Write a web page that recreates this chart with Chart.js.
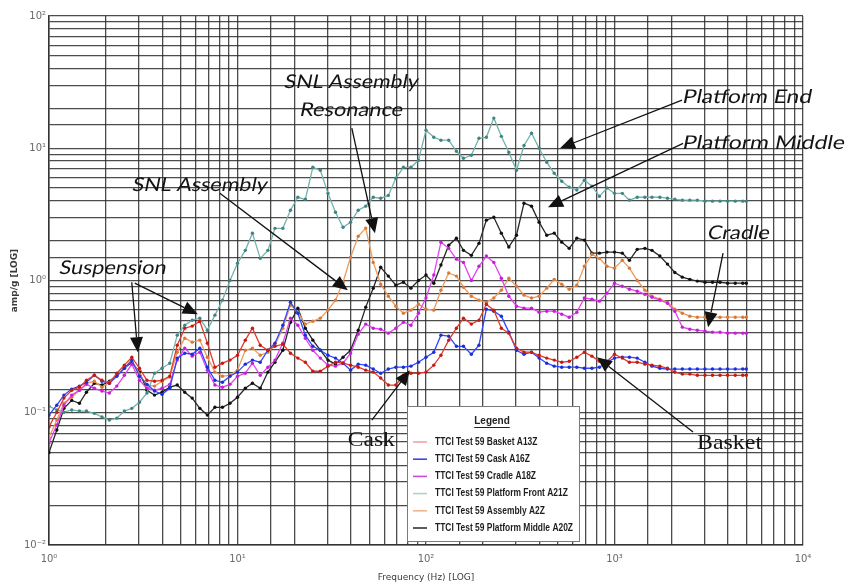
<!DOCTYPE html>
<html>
<head>
<meta charset="utf-8">
<script src="https://cdn.jsdelivr.net/npm/chart.js@4.4.1/dist/chart.umd.min.js"></script>
<style>
  html, body { margin: 0; padding: 0; background: #ffffff; }
  canvas { display: block; }
</style>
</head>
<body>
<canvas id="chart" width="849" height="586"></canvas>
<script>
// Frequency points (Hz) shared by every channel
const frequencies = [
  1, 1.1, 1.2, 1.32, 1.45, 1.58, 1.74, 1.91, 2.09, 2.29, 2.51, 2.75, 3.02, 3.31, 3.63, 3.98, 4.37, 4.79, 5.25, 5.75, 6.31, 6.92, 7.59, 8.32, 9.12,
  10, 11, 12, 13.2, 14.5, 15.8, 17.4, 19.1, 20.9, 22.9, 25.1, 27.5, 30.2, 33.1, 36.3, 39.8, 43.7, 47.9, 52.5, 57.5, 63.1, 69.2, 75.9, 83.2, 91.2,
  100, 110, 120, 132, 145, 158, 174, 191, 209, 229, 251, 275, 302, 331, 363, 398, 437, 479, 525, 575, 631, 692, 759, 832, 912,
  1000, 1100, 1200, 1320, 1450, 1580, 1740, 1910, 2090, 2290, 2510, 2750, 3020, 3310, 3630, 3980, 4370, 4790, 5000
];

// Response amplitude (g) per channel
const basketA13Z = [
  0.078, 0.101, 0.129, 0.148, 0.156, 0.176, 0.192, 0.176, 0.167, 0.199,
  0.229, 0.263, 0.217, 0.176, 0.173, 0.176, 0.189, 0.324, 0.436, 0.452,
  0.492, 0.336, 0.221, 0.237, 0.250, 0.272, 0.354, 0.436, 0.324, 0.297,
  0.318, 0.330, 0.282, 0.259, 0.241, 0.206, 0.206, 0.225, 0.241, 0.237,
  0.229, 0.221, 0.210, 0.203, 0.183, 0.162, 0.162, 0.192, 0.199, 0.199,
  0.203, 0.229, 0.272, 0.354, 0.436, 0.519, 0.468, 0.501, 0.662, 0.597,
  0.436, 0.400, 0.308, 0.287, 0.287, 0.272, 0.259, 0.250, 0.241, 0.245,
  0.263, 0.287, 0.268, 0.245, 0.245, 0.277, 0.259, 0.241, 0.241, 0.233,
  0.229, 0.225, 0.217, 0.203, 0.196, 0.196, 0.192, 0.192, 0.192, 0.192,
  0.192, 0.192, 0.192, 0.192
];
const caskA16Z = [
  0.096, 0.114, 0.136, 0.151, 0.159, 0.170, 0.192, 0.173, 0.167, 0.189,
  0.217, 0.250, 0.189, 0.164, 0.146, 0.138, 0.153, 0.259, 0.282, 0.277,
  0.308, 0.221, 0.176, 0.170, 0.189, 0.203, 0.233, 0.250, 0.241, 0.297,
  0.336, 0.459, 0.686, 0.566, 0.386, 0.318, 0.297, 0.272, 0.259, 0.237,
  0.210, 0.233, 0.229, 0.214, 0.199, 0.214, 0.221, 0.221, 0.225, 0.241,
  0.263, 0.287, 0.386, 0.379, 0.318, 0.318, 0.277, 0.324, 0.607, 0.586,
  0.537, 0.407, 0.297, 0.277, 0.287, 0.259, 0.237, 0.225, 0.221, 0.221,
  0.221, 0.217, 0.217, 0.221, 0.241, 0.259, 0.263, 0.263, 0.259, 0.241,
  0.225, 0.217, 0.214, 0.214, 0.214, 0.214, 0.214, 0.214, 0.214, 0.214,
  0.214, 0.214, 0.214, 0.214
];
const cradleA18Z = [
  0.059, 0.081, 0.114, 0.136, 0.148, 0.164, 0.153, 0.146, 0.141, 0.159,
  0.192, 0.233, 0.176, 0.153, 0.148, 0.153, 0.164, 0.250, 0.308, 0.268,
  0.287, 0.210, 0.162, 0.156, 0.164, 0.189, 0.199, 0.237, 0.192, 0.221,
  0.250, 0.336, 0.519, 0.459, 0.366, 0.297, 0.259, 0.229, 0.225, 0.237,
  0.282, 0.393, 0.468, 0.436, 0.428, 0.400, 0.436, 0.484, 0.459, 0.566,
  0.737, 1.10, 1.95, 1.75, 1.45, 1.37, 1.00, 1.28, 1.53, 1.37,
  1.04, 0.761, 0.639, 0.618, 0.618, 0.576, 0.586, 0.586, 0.556, 0.528,
  0.576, 0.737, 0.722, 0.698, 0.802, 0.954, 0.905, 0.859, 0.830, 0.788,
  0.748, 0.710, 0.673, 0.586, 0.444, 0.428, 0.421, 0.414, 0.407, 0.407,
  0.400, 0.400, 0.400, 0.400
];
const platformFrontA21Z = [
  0.112, 0.105, 0.101, 0.105, 0.103, 0.103, 0.099, 0.093, 0.088, 0.091,
  0.103, 0.108, 0.120, 0.141, 0.199, 0.217, 0.237, 0.386, 0.459, 0.501,
  0.519, 0.421, 0.547, 0.710, 1.00, 1.35, 1.69, 2.28, 1.47, 1.69,
  2.48, 2.48, 3.40, 4.26, 4.11, 7.18, 6.82, 4.56, 3.28, 2.53,
  2.76, 3.40, 3.65, 4.26, 4.19, 4.40, 5.93, 7.18, 7.18, 8.11,
  13.7, 12.1, 11.5, 11.5, 9.49, 8.40, 8.85, 11.9, 12.1, 16.9,
  12.3, 9.33, 6.82, 10.5, 13.0, 10.0, 7.84, 6.47, 5.63, 5.08,
  4.83, 5.73, 5.17, 4.33, 5.00, 4.56, 4.56, 4.05, 4.26, 4.26,
  4.26, 4.26, 4.19, 4.11, 4.05, 4.05, 4.05, 3.98, 3.98, 3.98,
  3.98, 3.98, 3.98, 3.98
];
const assemblyA2Z = [
  0.065, 0.088, 0.118, 0.131, 0.148, 0.167, 0.173, 0.156, 0.170, 0.192,
  0.217, 0.250, 0.196, 0.162, 0.159, 0.173, 0.186, 0.287, 0.366, 0.342,
  0.354, 0.263, 0.203, 0.189, 0.192, 0.210, 0.297, 0.308, 0.272, 0.287,
  0.324, 0.436, 0.651, 0.576, 0.468, 0.492, 0.519, 0.597, 0.710, 0.970,
  1.50, 2.16, 2.49, 1.37, 0.938, 0.761, 0.639, 0.566, 0.597, 0.662,
  0.607, 0.597, 0.845, 1.14, 1.08, 0.890, 0.761, 0.710, 0.686, 0.737,
  0.845, 1.04, 0.905, 0.775, 0.737, 0.761, 0.875, 1.02, 0.938, 0.859,
  0.921, 1.28, 1.58, 1.47, 1.28, 1.24, 1.42, 1.24, 1.00, 0.845,
  0.761, 0.722, 0.686, 0.607, 0.566, 0.537, 0.528, 0.528, 0.528, 0.528,
  0.528, 0.528, 0.528, 0.528
];
const platformMiddleA20Z = [
  0.050, 0.074, 0.108, 0.124, 0.118, 0.143, 0.167, 0.162, 0.173, 0.192,
  0.217, 0.241, 0.203, 0.148, 0.136, 0.143, 0.156, 0.162, 0.143, 0.129,
  0.108, 0.096, 0.110, 0.110, 0.118, 0.131, 0.153, 0.167, 0.153, 0.203,
  0.241, 0.297, 0.484, 0.618, 0.436, 0.354, 0.297, 0.250, 0.233, 0.263,
  0.297, 0.421, 0.629, 0.875, 1.26, 1.08, 0.921, 0.970, 0.875, 1.00,
  1.10, 0.954, 1.31, 1.85, 2.09, 1.69, 1.55, 1.91, 2.86, 3.01,
  2.28, 1.79, 2.20, 3.84, 3.65, 2.76, 2.20, 2.28, 1.95, 1.75,
  2.09, 2.02, 1.61, 1.61, 1.64, 1.64, 1.61, 1.42, 1.72, 1.75,
  1.69, 1.53, 1.33, 1.15, 1.06, 1.02, 0.990, 0.970, 0.970, 0.970,
  0.954, 0.954, 0.954, 0.954
];

const seriesNames = [
  'TTCI Test 59 Basket A13Z',
  'TTCI Test 59 Cask A16Z',
  'TTCI Test 59 Cradle A18Z',
  'TTCI Test 59 Platform Front A21Z',
  'TTCI Test 59 Assembly A2Z',
  'TTCI Test 59 Platform Middle A20Z'
];
const seriesValues = [basketA13Z, caskA16Z, cradleA18Z, platformFrontA21Z, assemblyA2Z, platformMiddleA20Z];

// Decade tick labels
const xTickLabels = ['10\u2070', '10\u00b9', '10\u00b2', '10\u00b3', '10\u2074'];
const yTickLabels = ['10\u207b\u00b2', '10\u207b\u00b9', '10\u2070', '10\u00b9', '10\u00b2'];

// Line / marker / legend swatch colours for each channel
const seriesStyles = [
  { line: '#e5392f', dot: '#c41a14', swatch: '#f2a3a3' },
  { line: '#3046ff', dot: '#1c2ed6', swatch: '#3a46e8' },
  { line: '#e444f2', dot: '#c61fd6', swatch: '#cf48e4' },
  { line: '#74b2ae', dot: '#3f8683', swatch: '#a9d4d0' },
  { line: '#ec9a5c', dot: '#d97a38', swatch: '#f0b48c' },
  { line: '#262626', dot: '#111111', swatch: '#333333' }
];

// Call-out labels, anchored in data units (Hz, g)
const SANS_CALLOUT = '19px Lato, "Open Sans", sans-serif';
const SERIF_CALLOUT = '21px "Liberation Serif", serif';
const calloutLabels = [
  { text: 'Platform End',    at: [2311, 24.3],   align: 'left',   font: SANS_CALLOUT, slant: true,  width: 129 },
  { text: 'Platform Middle', at: [2311, 10.9],   align: 'left',   font: SANS_CALLOUT, slant: true,  width: 162 },
  { text: 'Cradle',          at: [3136, 2.28],   align: 'left',   font: SANS_CALLOUT, slant: true,  width: 62 },
  { text: 'SNL Assembly',    at: [40.4, 31.5],   align: 'center', font: SANS_CALLOUT, slant: true,  width: 134 },
  { text: 'Resonance',       at: [40.4, 19.4],   align: 'center', font: SANS_CALLOUT, slant: true,  width: 103 },
  { text: 'SNL Assembly',    at: [2.782, 5.25],  align: 'left',   font: SANS_CALLOUT, slant: true,  width: 135 },
  { text: 'Suspension',      at: [1.14, 1.24],   align: 'left',   font: SANS_CALLOUT, slant: true,  width: 107 },
  { text: 'Cask',            at: [38.5, 0.0621], align: 'left',   font: SERIF_CALLOUT, slant: false, width: 47 },
  { text: 'Basket',          at: [2741, 0.0589], align: 'left',   font: SERIF_CALLOUT, slant: false, width: 65 }
];
// Pointer arrows: tail -> head, in data units
const calloutArrows = [
  { from: [2282, 23.1], to: [514, 10.0] },
  { from: [2311, 10.9], to: [444, 3.58] },
  { from: [3766, 1.61], to: [3136, 0.444] },
  { from: [40.4, 14.2], to: [53.6, 2.28] },
  { from: [8.06, 4.57], to: [38.5, 0.845] },
  { from: [2.748, 0.971], to: [2.957, 0.287] },
  { from: [2.85, 0.954], to: [6.156, 0.556] },
  { from: [51.6, 0.0879], to: [82.1, 0.210] },
  { from: [2610, 0.0714], to: [807, 0.263] }
];

const datasets = seriesNames.map((name, k) => ({
  label: name,
  data: frequencies.map((f, i) => ({ x: f, y: seriesValues[k][i] })),
  borderColor: seriesStyles[k].line,
  backgroundColor: seriesStyles[k].dot,
  pointBackgroundColor: seriesStyles[k].dot,
  pointBorderWidth: 0,
  pointRadius: 1.7,
  pointHoverRadius: 1.7,
  borderWidth: 1.3,
  tension: 0,
  fill: false
}));

function decadeLabel(value, labels, minExp) {
  const p = Math.round(Math.log10(value));
  if (Math.abs(value - Math.pow(10, p)) > 1e-9 * value) return '';
  return labels[p - minExp] || '';
}

const GRID = 'rgba(45,45,45,0.85)';

const calloutPlugin = {
  id: 'callouts',
  afterDatasetsDraw(chart) {
    const ctx = chart.ctx;
    const xs = chart.scales.x, ys = chart.scales.y;
    const px = (p) => [xs.getPixelForValue(p[0]), ys.getPixelForValue(p[1])];
    ctx.save();
    // arrows
    ctx.strokeStyle = '#111';
    ctx.fillStyle = '#111';
    ctx.lineWidth = 1.3;
    calloutArrows.forEach(a => {
      const [x0, y0] = px(a.from);
      const [x1, y1] = px(a.to);
      const ang = Math.atan2(y1 - y0, x1 - x0);
      const head = 15, half = 6.5;
      const bx = x1 - head * Math.cos(ang), by = y1 - head * Math.sin(ang);
      ctx.beginPath();
      ctx.moveTo(x0, y0);
      ctx.lineTo(bx, by);
      ctx.stroke();
      ctx.beginPath();
      ctx.moveTo(x1, y1);
      ctx.lineTo(bx + half * Math.sin(ang), by - half * Math.cos(ang));
      ctx.lineTo(bx - half * Math.sin(ang), by + half * Math.cos(ang));
      ctx.closePath();
      ctx.fill();
    });
    // labels (sans call-outs are slanted like an italic face)
    ctx.textBaseline = 'middle';
    ctx.fillStyle = '#141414';
    calloutLabels.forEach(l => {
      const [x, y] = px(l.at);
      ctx.font = l.font;
      const w = ctx.measureText(l.text).width;
      const s = l.width / w;
      ctx.save();
      ctx.translate(l.align === 'center' ? x - l.width / 2 : x, y);
      if (l.slant) ctx.transform(1, 0, -0.2, 1, 0, 0);
      ctx.scale(s, 1);
      ctx.textAlign = 'left';
      ctx.fillText(l.text, 0, 0);
      ctx.restore();
    });
    ctx.restore();
  },
  afterDraw(chart) {
    // legend panel
    const ctx = chart.ctx;
    const box = { x: 407, y: 406, w: 172, h: 135 };
    ctx.save();
    ctx.fillStyle = '#ffffff';
    ctx.fillRect(box.x, box.y, box.w, box.h);
    ctx.strokeStyle = '#7a7a7a';
    ctx.lineWidth = 1;
    ctx.strokeRect(box.x + 0.5, box.y + 0.5, box.w, box.h);

    ctx.fillStyle = '#222';
    ctx.font = 'bold 10px "Liberation Sans", Arial, sans-serif';
    ctx.textAlign = 'center';
    ctx.textBaseline = 'middle';
    const tx = box.x + box.w / 2 - 1, ty = box.y + 15;
    ctx.fillText('Legend', tx, ty);
    const tw = ctx.measureText('Legend').width;
    ctx.fillRect(tx - tw / 2, ty + 6, tw, 1);

    ctx.font = 'bold 10px "Liberation Sans Narrow", "Liberation Sans", Arial, sans-serif';
    ctx.textAlign = 'left';
    const longest = Math.max(...chart.data.datasets.map(d => ctx.measureText(d.label).width));
    const sx = 138 / longest;
    chart.data.datasets.forEach((d, i) => {
      const y = box.y + 36 + i * 17.2;
      ctx.strokeStyle = seriesStyles[i].swatch;
      ctx.lineWidth = 1.6;
      ctx.beginPath();
      ctx.moveTo(box.x + 6, y);
      ctx.lineTo(box.x + 20, y);
      ctx.stroke();
      ctx.save();
      ctx.translate(box.x + 28, y);
      ctx.scale(sx, 1);
      ctx.fillStyle = '#1e1e1e';
      ctx.fillText(d.label, 0, 0);
      ctx.restore();
    });
    ctx.restore();
  }
};

new Chart(document.getElementById('chart'), {
  type: 'line',
  data: { datasets },
  plugins: [calloutPlugin],
  options: {
    responsive: false,
    animation: false,
    devicePixelRatio: 1,
    layout: { padding: { left: 0, right: 46, top: 16, bottom: 0 } },
    plugins: { legend: { display: false }, tooltip: { enabled: false } },
    scales: {
      x: {
        type: 'logarithmic',
        position: 'bottom',
        min: 1,
        max: 10000,
        grid: { color: GRID, lineWidth: 1.3, drawTicks: false },
        border: { color: '#333', width: 1.5 },
        ticks: {
          autoSkip: false,
          maxRotation: 0,
          padding: 8,
          color: '#6a6a6a',
          font: { size: 10, family: '"DejaVu Sans", sans-serif' },
          callback: (v) => decadeLabel(v, xTickLabels, 0)
        },
        title: {
          display: true,
          text: 'Frequency (Hz) [LOG]',
          color: '#3a3a3a',
          font: { size: 9, family: '"DejaVu Sans", sans-serif' },
          padding: { top: 0, bottom: 3 }
        },
        afterFit(scale) { scale.height = 41; }
      },
      y: {
        type: 'logarithmic',
        position: 'left',
        min: 0.01,
        max: 100,
        grid: { color: GRID, lineWidth: 1.3, drawTicks: false },
        border: { color: '#333', width: 1.5 },
        ticks: {
          autoSkip: false,
          padding: 3,
          color: '#6a6a6a',
          font: { size: 10, family: '"DejaVu Sans", sans-serif' },
          callback: (v) => decadeLabel(v, yTickLabels, -2)
        },
        title: {
          display: true,
          text: 'amp/g [LOG]',
          color: '#3a3a3a',
          font: { size: 9, weight: 'bold', family: '"DejaVu Sans", sans-serif' },
          padding: { top: 9, bottom: 0 }
        },
        afterFit(scale) { scale.width = 49; }
      }
    }
  }
});
</script>
</body>
</html>
